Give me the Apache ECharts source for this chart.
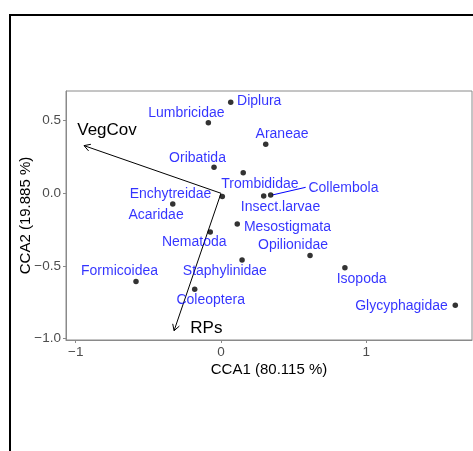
<!DOCTYPE html>
<html>
<head>
<meta charset="utf-8">
<script src="https://cdn.jsdelivr.net/npm/echarts@6/dist/echarts.min.js"></script>
<style>
html,body{margin:0;padding:0;background:#fff;}
#main{width:473px;height:451px;}
</style>
</head>
<body>
<div id="main"></div>
<script>
// ---- data ----
var species = ['Diplura','Lumbricidae','Araneae','Oribatida','Trombididae','Collembola','Insect.larvae','Enchytreidae','Acaridae','Mesostigmata','Nematoda','Opilionidae','Staphylinidae','Formicoidea','Coleoptera','Isopoda','Glycyphagidae'];
var cca1 = [0.067,-0.087,0.308,-0.048,0.153,0.342,0.294,0.009,-0.332,0.112,-0.074,0.613,0.145,-0.585,-0.181,0.853,1.613];
var cca2 = [0.626,0.486,0.337,0.179,0.142,-0.012,-0.019,-0.023,-0.074,-0.211,-0.266,-0.429,-0.459,-0.608,-0.661,-0.512,-0.771];
var envNames = ['VegCov','RPs'];
var envX = [-0.943,-0.323];
var envY = [0.328,-0.946];
var xTicks = [-1,0,1];
var yTicks = [-1,-0.5,0,0.5];
var xTitle = 'CCA1 (80.115 %)';
var yTitle = 'CCA2 (19.885 %)';

// ---- layout (label pixel offsets, repel-style) ----
var labelOffsets = [[28.5,-1],[-22,-10],[16.3,-10],[-16.5,-9.6],[16.7,11.3],[72.8,-6.7],[16.8,11],[-51.8,-2.4],[-16.7,11],[50.2,3.3],[-16,10.7],[-17,-10],[-17.2,11.3],[-16.5,-10],[16,10.7],[16.7,11.3],[-53.8,0.4]];
var segmentEnds = {'Collembola':[35,-7.7]};
var envLabelOffsets = [[23,-15],[32.3,-2.4]];

var FONT = '"Liberation Sans", Arial, Helvetica, sans-serif';
var GREY = '#8a8a8a';
function minus(s){ return String(s).replace('-', '\u2212'); }

var chart = echarts.init(document.getElementById('main'), null, {renderer:'canvas'});

var pointData = species.map(function(n,i){
  return {
    name:n, value:[cca1[i],cca2[i]],
    label:{offset:labelOffsets[i]}
  };
});

var segData = [];
species.forEach(function(n,i){ if(segmentEnds[n]) segData.push([cca1[i],cca2[i],segmentEnds[n][0],segmentEnds[n][1]]); });

var arrowData = envNames.map(function(n,i){ return [envX[i],envY[i],n,envLabelOffsets[i][0],envLabelOffsets[i][1]]; });

var option = {
  backgroundColor:'#fff',
  animation:false,
  textStyle:{fontFamily:FONT},
  grid:{left:66,top:91,width:406,height:249,show:true,borderColor:GREY,borderWidth:1,backgroundColor:'transparent'},
  xAxis:{
    type:'value', min:-1.067, max:1.728,
    axisLine:{show:true,onZero:false,lineStyle:{color:GREY,width:1}},
    splitLine:{show:false},
    axisTick:{show:true,customValues:xTicks,length:3,lineStyle:{color:GREY}},
    axisLabel:{customValues:xTicks,color:'#4d4d4d',fontSize:13.5,fontFamily:FONT,margin:5,formatter:function(v){return minus(v);}},
    name:xTitle, nameLocation:'middle', nameGap:22, nameMoveOverlap:false,
    nameTextStyle:{color:'#000',fontSize:15,fontFamily:FONT}
  },
  yAxis:{
    type:'value', min:-1.01, max:0.704,
    axisLine:{show:true,onZero:false,lineStyle:{color:GREY,width:1}},
    splitLine:{show:false},
    axisTick:{show:true,customValues:yTicks,length:3,lineStyle:{color:GREY}},
    axisLabel:{customValues:yTicks,color:'#4d4d4d',fontSize:13.5,fontFamily:FONT,margin:5,formatter:function(v){return minus(v.toFixed(1));}},
    name:yTitle, nameLocation:'middle', nameGap:33, nameRotate:90, nameMoveOverlap:false,
    nameTextStyle:{color:'#000',fontSize:15,fontFamily:FONT}
  },
  graphic:[{
    type:'rect', shape:{x:10,y:15,width:520,height:520},
    style:{fill:'none',stroke:'#000',lineWidth:2}, silent:true, z:100
  }],
  series:[
    {
      type:'custom', coordinateSystem:'cartesian2d', data:arrowData,
      encode:{x:0,y:1},
      renderItem:function(params,api){
        var o = api.coord([0,0]);
        var e = api.coord([api.value(0),api.value(1)]);
        var ang = Math.atan2(e[1]-o[1], e[0]-o[0]);
        var L = 7, a = Math.PI/6;
        var p1 = [e[0]-L*Math.cos(ang-a), e[1]-L*Math.sin(ang-a)];
        var p2 = [e[0]-L*Math.cos(ang+a), e[1]-L*Math.sin(ang+a)];
        return {type:'group',children:[
          {type:'line',shape:{x1:o[0],y1:o[1],x2:e[0],y2:e[1]},style:{stroke:'#000',lineWidth:1}},
          {type:'polyline',shape:{points:[p1,e,p2]},style:{stroke:'#000',lineWidth:1,fill:null}},
          {type:'text',x:e[0]+api.value(3),y:e[1]+api.value(4),
            style:{text:api.value(2),fill:'#000',font:'17px '+FONT,align:'center',verticalAlign:'middle'}}
        ]};
      },
      z:3
    },
    {
      type:'custom', coordinateSystem:'cartesian2d', data:segData,
      encode:{x:0,y:1},
      renderItem:function(params,api){
        var p = api.coord([api.value(0),api.value(1)]);
        return {type:'line',shape:{x1:p[0]+1.5,y1:p[1],x2:p[0]+api.value(2),y2:p[1]+api.value(3)},style:{stroke:'#0000ff',lineWidth:1}};
      },
      z:4
    },
    {
      type:'scatter', data:pointData, symbol:'circle', symbolSize:5.5,
      itemStyle:{color:'#000'},
      label:{show:true,position:'inside',formatter:'{b}',color:'#0000ff',fontSize:14,fontFamily:FONT,align:'center',verticalAlign:'middle'},
      z:5
    }
  ]
};
chart.setOption(option);
</script>
</body>
</html>
